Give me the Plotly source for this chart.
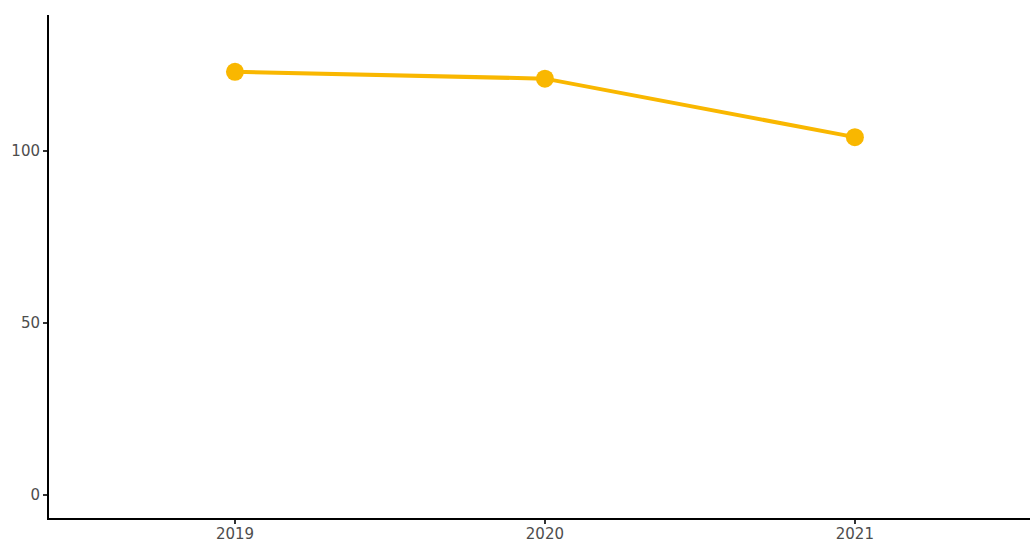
import plotly.graph_objects as go

years = [2019, 2020, 2021]
values = [123, 121, 104]
y_ticks = [0, 50, 100]

fig = go.Figure(go.Scatter(
    x=years, y=values, mode="lines+markers",
    line=dict(color="#F9B700", width=4),
    marker=dict(color="#F9B700", size=18),
))

fig.update_layout(
    width=1030, height=543,
    margin=dict(l=49, r=0, t=15, b=25),
    plot_bgcolor="white", paper_bgcolor="white",
    showlegend=False,
    font=dict(family="DejaVu Sans", size=15, color="#4D4D4D"),
)
fig.update_xaxes(
    range=[2018.4, 2021.565], tickvals=years, ticktext=[str(y) for y in years],
    showgrid=False, zeroline=False, showline=True, linecolor="black", linewidth=2,
    ticks="outside", ticklen=4, tickwidth=1.5, tickcolor="#333333",
    ticklabelstandoff=-3, automargin=False,
)
fig.update_yaxes(
    range=[-6.7, 139.5], tickvals=y_ticks,
    showgrid=False, zeroline=False, showline=True, linecolor="black", linewidth=2,
    ticks="outside", ticklen=4, tickwidth=1.5, tickcolor="#333333",
    automargin=False,
)
fig.write_html(
    "out.html",
    config={"displayModeBar": False},
    post_script="document.body.style.margin='0';document.body.style.overflow='hidden';",
)
